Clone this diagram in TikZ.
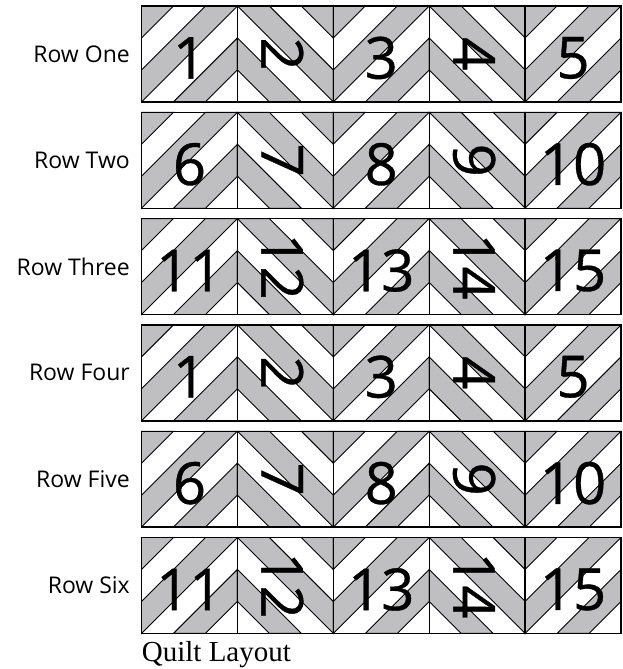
\documentclass[tikz,border=0pt]{standalone}
\usepackage{fontspec}
\setmainfont{Liberation Serif}
\newfontfamily\labelfont{Open Sans}
\newfontfamily\numfont[FakeBold=0.6]{Open Sans}
\definecolor{quiltgray}{RGB}{191,191,193}
\begin{document}
\begin{tikzpicture}[x=1pt,y=1pt,
  stripe/.style={fill=quiltgray,draw=black,line width=0.9pt,line join=miter},
  blockborder/.style={draw=black,line width=1.4pt},
  num/.style={font=\numfont\fontsize{58}{58}\selectfont,inner sep=0pt},
  rowlab/.style={font=\labelfont\fontsize{23}{23}\selectfont,anchor=east,inner sep=0pt}]
\useasboundingbox (0,0) rectangle (623,-669);
\def\S{95.9}
\pgfmathsetmacro\T{\S/3}
% blocks
\foreach \r in {0,...,5}{
  \pgfmathsetmacro\rowtop{-(6+106.3*\r)}
  \foreach \j in {0,...,4}{
    \pgfmathtruncatemacro\odd{mod(\j,2)}
    \ifnum\odd=0
      \pgfmathsetmacro\ox{141.5+\j*\S}\def\xs{1}
    \else
      \pgfmathsetmacro\ox{141.5+(\j+1)*\S}\def\xs{-1}
    \fi
    \begin{scope}[shift={(\ox,\rowtop)},xscale=\xs]
      \filldraw[stripe] (0,0) -- (\T,0) -- (0,-\T) -- cycle;
      \filldraw[stripe] (2*\T,0) -- (3*\T,0) -- (0,-3*\T) -- (0,-2*\T) -- cycle;
      \filldraw[stripe] (3*\T,-\T) -- (3*\T,-2*\T) -- (2*\T,-3*\T) -- (\T,-3*\T) -- cycle;
    \end{scope}
  }
  \draw[blockborder] (141.5,\rowtop) rectangle ++(5*\S,-\S);
  \foreach \j in {1,...,4}{
    \draw[blockborder] (141.5+\j*\S,\rowtop) -- ++(0,-\S);
  }
}
% numbers
\foreach \r in {0,...,5}{
  \pgfmathtruncatemacro\base{mod(\r,3)*5}
  \foreach \j in {0,...,4}{
    \pgfmathtruncatemacro\num{\base+\j+1}
    \pgfmathsetmacro\cx{141.5+(\j+0.5)*\S}
    \pgfmathsetmacro\cy{-(6+106.3*\r+\S/2)}
    \pgfmathtruncatemacro\odd{mod(\j,2)}
    \ifnum\odd=0
      \node[num] (n-\r-\j) at (\cx,\cy-4) {\num};
    \else
      \node[num,rotate=-90] (n-\r-\j) at (\cx-3,\cy) {\num};
    \fi
  }
}
% row labels
\foreach \r/\name in {0/One,1/Two,2/Three,3/Four,4/Five,5/Six}{
  \pgfmathsetmacro\cy{-(6+106.3*\r+\S/2)}
  \node[rowlab] (lab-\r) at (130,\cy) {Row \name};
}
\node[anchor=base west,inner sep=0pt,font=\fontsize{29}{29}\selectfont] (title) at (141.7,-661.7) {Quilt Layout};
\end{tikzpicture}
\end{document}
